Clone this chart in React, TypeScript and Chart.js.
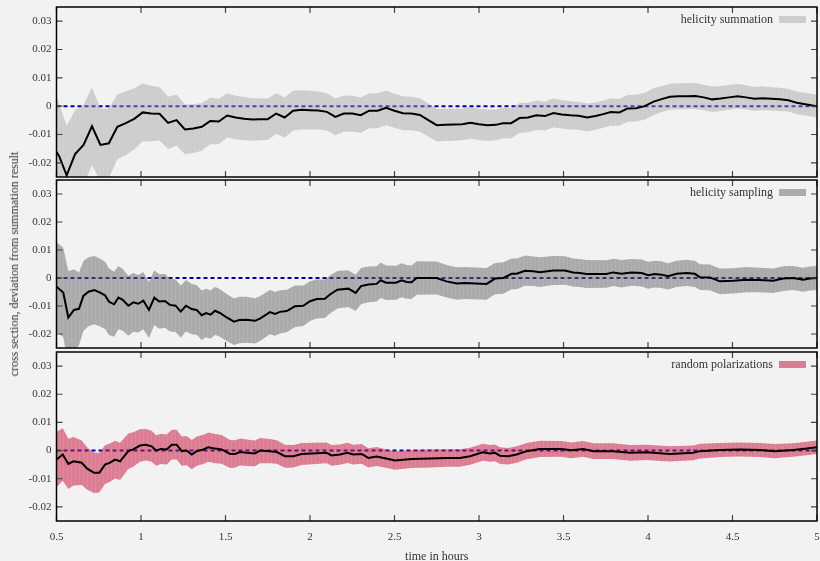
import React, { useEffect, useRef } from 'react';
import { Chart, registerables } from 'chart.js';

Chart.register(...registerables);

// ---------- data ----------
const xTicks = [0.5, 1, 1.5, 2, 2.5, 3, 3.5, 4, 4.5, 5];
const yTicks = [-0.02, -0.01, 0, 0.01, 0.02, 0.03];
const legendLabels = ['helicity summation', 'helicity sampling', 'random polarizations'];
const xTitle = 'time in hours';
const yTitle = 'cross section, deviation from summation result';

// panel 1: helicity summation
const hours1 = [
  0.5, 0.517, 0.56, 0.61, 0.66, 0.71, 0.76, 0.81, 0.86, 0.91,
  0.96, 1.01, 1.06, 1.11, 1.16, 1.21, 1.26, 1.31, 1.36, 1.41,
  1.46, 1.51, 1.56, 1.61, 1.66, 1.7, 1.75, 1.8, 1.85, 1.9,
  1.95, 2.0, 2.05, 2.1, 2.15, 2.2, 2.25, 2.3, 2.35, 2.4,
  2.45, 2.5, 2.55, 2.6, 2.65, 2.7, 2.75, 2.8, 2.85, 2.9,
  2.95, 3.0, 3.05, 3.1, 3.14, 3.19, 3.24, 3.29, 3.34, 3.39,
  3.44, 3.49, 3.54, 3.59, 3.64, 3.69, 3.73, 3.78, 3.83, 3.88,
  3.93, 3.98, 4.03, 4.08, 4.13, 4.18, 4.23, 4.28, 4.33, 4.38,
  4.43, 4.48, 4.53, 4.58, 4.63, 4.68, 4.73, 4.78, 4.83, 4.88,
  4.93, 5.0,
];
const summation = [
  -0.0161, -0.0178, -0.0244, -0.0169, -0.0137, -0.0071, -0.0137, -0.0131, -0.0073, -0.006,
  -0.0045, -0.0022, -0.0026, -0.0027, -0.0059, -0.0049, -0.0082, -0.0079, -0.0073, -0.0052,
  -0.0054, -0.0033, -0.004, -0.0044, -0.0047, -0.0046, -0.0046, -0.0026, -0.004, -0.0016,
  -0.0013, -0.0014, -0.0015, -0.002, -0.0038, -0.0026, -0.0026, -0.0032, -0.0016, -0.0016,
  -0.0006, -0.0016, -0.0025, -0.0026, -0.0031, -0.0049, -0.0067, -0.0066, -0.0065, -0.0064,
  -0.0059, -0.0064, -0.0067, -0.0066, -0.006, -0.006, -0.0042, -0.004, -0.0032, -0.0035,
  -0.0024, -0.0029, -0.0032, -0.0034, -0.004, -0.0035, -0.0029, -0.0021, -0.0022, -0.0008,
  -0.0007, 0, 0.0015, 0.0025, 0.0033, 0.0035, 0.0035, 0.0036, 0.0031, 0.0024,
  0.0027, 0.0031, 0.0035, 0.0031, 0.0026, 0.0028, 0.0026, 0.0024, 0.0021, 0.0012,
  0.0007, 0,
];
const summationErr = [
  0.0195, 0.0185, 0.0175, 0.0155, 0.0142, 0.0137, 0.0129, 0.0123, 0.0114, 0.0112,
  0.0108, 0.0102, 0.0098, 0.0094, 0.0092, 0.009, 0.0088, 0.0086, 0.0084, 0.0082,
  0.008, 0.0078, 0.0077, 0.0076, 0.0075, 0.0074, 0.0073, 0.0072, 0.0071, 0.007,
  0.0069, 0.0068, 0.0067, 0.0066, 0.0065, 0.0064, 0.0063, 0.0063, 0.0062, 0.0062,
  0.0061, 0.006, 0.006, 0.0059, 0.0059, 0.0058, 0.0058, 0.0057, 0.0057, 0.0056,
  0.0056, 0.0055, 0.0055, 0.0054, 0.0054, 0.0053, 0.0053, 0.0052, 0.0052, 0.0051,
  0.0051, 0.005, 0.005, 0.0049, 0.0049, 0.0048, 0.0048, 0.0048, 0.0047, 0.0047,
  0.0047, 0.0047, 0.0047, 0.0046, 0.0046, 0.0046, 0.0046, 0.0046, 0.0045, 0.0045,
  0.0044, 0.0044, 0.0043, 0.0043, 0.0042, 0.0042, 0.0041, 0.0041, 0.004, 0.004,
  0.004, 0.004,
];

// panel 2: helicity sampling
const hours2 = [
  0.5, 0.54, 0.57, 0.603, 0.633, 0.659, 0.689, 0.724, 0.758, 0.787,
  0.811, 0.841, 0.866, 0.892, 0.925, 0.955, 0.984, 1.014, 1.047, 1.079,
  1.108, 1.142, 1.171, 1.205, 1.235, 1.266, 1.3, 1.329, 1.359, 1.385,
  1.412, 1.438, 1.467, 1.507, 1.55, 1.582, 1.625, 1.674, 1.704, 1.763,
  1.793, 1.822, 1.862, 1.911, 1.96, 2.0, 2.04, 2.088, 2.118, 2.162,
  2.227, 2.27, 2.302, 2.345, 2.394, 2.418, 2.45, 2.509, 2.542, 2.572,
  2.601, 2.631, 2.749, 2.808, 2.868, 2.917, 3.045, 3.095, 3.144, 3.193,
  3.223, 3.272, 3.321, 3.36, 3.44, 3.508, 3.557, 3.597, 3.636, 3.754,
  3.794, 3.843, 3.902, 3.962, 4.001, 4.04, 4.08, 4.119, 4.169, 4.228,
  4.277, 4.307, 4.366, 4.425, 4.504, 4.583, 4.662, 4.741, 4.8, 4.859,
  4.918, 4.958, 5.0,
];
const sampling = [
  -0.0031, -0.0052, -0.0141, -0.0114, -0.011, -0.0064, -0.0049, -0.0043, -0.0052, -0.0062,
  -0.0085, -0.0094, -0.007, -0.0078, -0.0099, -0.0087, -0.0092, -0.0081, -0.0114, -0.007,
  -0.0084, -0.0082, -0.0096, -0.0099, -0.012, -0.0099, -0.0111, -0.0114, -0.0133, -0.0125,
  -0.0131, -0.0117, -0.0125, -0.0141, -0.0156, -0.015, -0.0149, -0.0153, -0.0145, -0.0122,
  -0.0128, -0.0121, -0.0118, -0.0101, -0.0099, -0.0083, -0.0075, -0.0074, -0.0059, -0.0042,
  -0.0038, -0.0053, -0.0029, -0.0023, -0.0021, -0.0008, -0.0017, -0.0017, -0.0008, -0.0014,
  -0.0015, 0, 0, -0.0012, -0.002, -0.0018, -0.0021, -0.0002, 0, 0.0015,
  0.0015, 0.0026, 0.0024, 0.0021, 0.0027, 0.0027, 0.002, 0.0018, 0.0014, 0.0014,
  0.002, 0.0015, 0.002, 0.0018, 0.001, 0.0014, 0.0012, 0.0006, 0.0015, 0.0018,
  0.0015, 0.0003, 0.0002, -0.0012, -0.001, -0.0006, -0.0007, -0.001, -0.0002, 0,
  -0.0006, -0.0002, 0,
];
const samplingErr = [
  0.016, 0.016, 0.0165, 0.0145, 0.013, 0.0125, 0.0123, 0.0122, 0.0121, 0.012,
  0.0119, 0.0116, 0.0113, 0.011, 0.0107, 0.0105, 0.0103, 0.0102, 0.01, 0.0098,
  0.0097, 0.0096, 0.0095, 0.0094, 0.0093, 0.0092, 0.009, 0.0089, 0.0088, 0.0087,
  0.0086, 0.0086, 0.0085, 0.0084, 0.0083, 0.0083, 0.0082, 0.0081, 0.008, 0.0079,
  0.0078, 0.0077, 0.0076, 0.0074, 0.0072, 0.0071, 0.007, 0.0069, 0.0068, 0.0067,
  0.0066, 0.0065, 0.0065, 0.0064, 0.0063, 0.0063, 0.0062, 0.0061, 0.0061, 0.006,
  0.006, 0.006, 0.0059, 0.0058, 0.0058, 0.0057, 0.0057, 0.0056, 0.0056, 0.0055,
  0.0055, 0.0054, 0.0053, 0.0053, 0.0052, 0.0051, 0.005, 0.005, 0.005, 0.0049,
  0.0049, 0.0049, 0.0048, 0.0048, 0.0048, 0.0048, 0.0048, 0.0047, 0.0047, 0.0047,
  0.0047, 0.0046, 0.0046, 0.0046, 0.0045, 0.0045, 0.0044, 0.0044, 0.0044, 0.0043,
  0.0043, 0.0043, 0.0043,
];

// panel 3: random polarizations
const hours3 = [
  0.5, 0.537, 0.57, 0.6, 0.649, 0.682, 0.722, 0.753, 0.787, 0.817,
  0.846, 0.876, 0.925, 0.954, 0.994, 1.028, 1.063, 1.089, 1.118, 1.152,
  1.182, 1.211, 1.241, 1.27, 1.3, 1.33, 1.369, 1.398, 1.438, 1.477,
  1.527, 1.556, 1.586, 1.625, 1.674, 1.704, 1.763, 1.803, 1.852, 1.901,
  1.95, 2.098, 2.128, 2.177, 2.221, 2.256, 2.306, 2.345, 2.394, 2.45,
  2.503, 2.601, 2.71, 2.808, 2.887, 2.947, 3.022, 3.065, 3.095, 3.124,
  3.173, 3.223, 3.282, 3.36, 3.488, 3.547, 3.616, 3.676, 3.794, 3.893,
  3.991, 4.129, 4.267, 4.307, 4.425, 4.543, 4.662, 4.75, 4.859, 4.938,
  5.0,
];
const randomPol = [
  -0.0032, -0.0014, -0.0047, -0.0038, -0.0043, -0.0064, -0.0079, -0.0079, -0.005, -0.0043,
  -0.0032, -0.0038, -0.0002, 0.0004, 0.0018, 0.0021, 0.0015, 0, 0.0006, 0.0004,
  0.0021, 0.0021, -0.0002, 0, -0.0014, -0.0002, 0.0004, 0.0012, 0.0007, 0.0004,
  -0.0012, -0.0012, -0.0005, -0.0008, -0.001, 0, -0.0002, -0.0005, -0.002, -0.002,
  -0.0012, -0.0008, -0.0017, -0.0014, -0.0008, -0.0014, -0.0012, -0.0026, -0.0021, -0.0028,
  -0.0035, -0.003, -0.0028, -0.0026, -0.0026, -0.002, -0.0006, -0.001, -0.0008, -0.0018,
  -0.002, -0.0014, -0.0002, 0.0006, 0.0006, 0.0001, 0.0006, -0.0002, -0.0002, -0.0008,
  -0.0006, -0.0012, -0.0008, -0.0002, 0.0002, 0.0004, 0.0002, -0.0002, 0.0002, 0.0007,
  0.0012,
];
const randomPolErr = [
  0.0098, 0.0093, 0.0089, 0.0086, 0.0079, 0.0075, 0.0072, 0.007, 0.0069, 0.0068,
  0.0067, 0.0066, 0.0063, 0.0061, 0.0058, 0.0056, 0.0055, 0.0054, 0.0054, 0.0053,
  0.0053, 0.0053, 0.0052, 0.0052, 0.0052, 0.0052, 0.0052, 0.0052, 0.0052, 0.0051,
  0.005, 0.0049, 0.0048, 0.0047, 0.0046, 0.0045, 0.0043, 0.0042, 0.0041, 0.004,
  0.0039, 0.0037, 0.0037, 0.0036, 0.0036, 0.0035, 0.0035, 0.0034, 0.0034, 0.0033,
  0.0033, 0.0032, 0.0032, 0.0031, 0.0031, 0.003, 0.003, 0.003, 0.003, 0.003,
  0.0029, 0.0029, 0.0029, 0.0029, 0.0028, 0.0028, 0.0028, 0.0028, 0.0028, 0.0028,
  0.0027, 0.0027, 0.0026, 0.0026, 0.0025, 0.0025, 0.0025, 0.0025, 0.0024, 0.0024,
  0.0024,
];

// ---------- styling ----------
const FONT = '"Liberation Serif", "Times New Roman", serif';
const BG = '#f2f2f2';
const TEXT = '#333333';

type PanelSpec = {
  hours: number[];
  vals: number[];
  errs: number[];
  label: string;
  fill: string;
  stripe: string;
  top: number;
  height: number;
  padTop: number;
  padBottom: number;
  showX: boolean;
};

const panels: PanelSpec[] = [
  { hours: hours1, vals: summation, errs: summationErr, label: legendLabels[0], fill: 'rgba(160,160,160,0.45)', stripe: 'rgba(160,160,160,0.40)', top: 0, height: 180, padTop: 7, padBottom: 3, showX: false },
  { hours: hours2, vals: sampling, errs: samplingErr, label: legendLabels[1], fill: 'rgba(100,100,100,0.5)', stripe: 'rgba(100,100,100,0.46)', top: 176, height: 175, padTop: 4, padBottom: 3, showX: false },
  { hours: hours3, vals: randomPol, errs: randomPolErr, label: legendLabels[2], fill: 'rgba(200,30,70,0.55)', stripe: 'rgba(200,30,70,0.50)', top: 348, height: 215, padTop: 4, padBottom: 0, showX: true },
];

function stripePattern(fill: string, stripe: string): CanvasPattern | string {
  const c = document.createElement('canvas');
  c.width = 4;
  c.height = 1;
  const g = c.getContext('2d');
  if (!g) return fill;
  g.fillStyle = fill;
  g.fillRect(0, 0, 3, 1);
  g.fillStyle = stripe;
  g.fillRect(3, 0, 1, 1);
  return g.createPattern(c, 'repeat') || fill;
}

function makeChart(canvas: HTMLCanvasElement, p: PanelSpec) {
  const pts = (f: (i: number) => number) => p.hours.map((h, i) => ({ x: h, y: f(i) }));

  const frame = {
    id: 'frame',
    afterDraw(chart: any) {
      const { ctx, chartArea: a, scales } = chart;
      ctx.save();
      ctx.strokeStyle = '#444';
      ctx.lineWidth = 1.2;
      ctx.beginPath();
      yTicks.forEach((v) => {
        const y = scales.y.getPixelForValue(v);
        ctx.moveTo(a.left, y);
        ctx.lineTo(a.left + 6, y);
        ctx.moveTo(a.right, y);
        ctx.lineTo(a.right - 6, y);
      });
      xTicks.forEach((v) => {
        const x = scales.x.getPixelForValue(v);
        ctx.moveTo(x, a.top);
        ctx.lineTo(x, a.top + 6);
        ctx.moveTo(x, a.bottom);
        ctx.lineTo(x, a.bottom - 6);
      });
      ctx.stroke();
      ctx.strokeStyle = '#000';
      ctx.lineWidth = 1.5;
      ctx.strokeRect(a.left, a.top, a.right - a.left, a.bottom - a.top);
      // legend
      ctx.fillStyle = p.fill;
      ctx.fillRect(a.right - 38, a.top + 9, 27, 7);
      ctx.font = `12px ${FONT}`;
      ctx.fillStyle = TEXT;
      ctx.textAlign = 'right';
      ctx.textBaseline = 'middle';
      ctx.fillText(p.label, a.right - 44, a.top + 13);
      ctx.restore();
    },
  };

  return new Chart(canvas, {
    type: 'line',
    data: {
      datasets: [
        {
          label: 'mean',
          data: pts((i) => p.vals[i]),
          borderColor: '#000',
          borderWidth: 2,
          pointRadius: 0,
          fill: false,
          tension: 0,
          order: 0,
        },
        {
          label: 'upper',
          data: pts((i) => p.vals[i] + p.errs[i]),
          borderColor: 'transparent',
          borderWidth: 0,
          pointRadius: 0,
          backgroundColor: stripePattern(p.fill, p.stripe),
          fill: '+1',
          tension: 0,
          order: 1,
        },
        {
          label: 'lower',
          data: pts((i) => p.vals[i] - p.errs[i]),
          borderColor: 'transparent',
          borderWidth: 0,
          pointRadius: 0,
          fill: false,
          tension: 0,
          order: 1,
        },
        {
          label: 'zero',
          data: [
            { x: xTicks[0], y: 0 },
            { x: xTicks[xTicks.length - 1], y: 0 },
          ],
          borderColor: '#0000aa',
          borderWidth: 2,
          borderDash: [4, 3],
          pointRadius: 0,
          fill: false,
          order: 2,
        },
      ],
    },
    options: {
      responsive: false,
      animation: false,
      events: [],
      layout: { padding: { left: 0, right: 3, top: p.padTop, bottom: p.padBottom } },
      plugins: {
        legend: { display: false },
        tooltip: { enabled: false },
        title: { display: false },
      },
      scales: {
        x: {
          type: 'linear',
          min: 0.5,
          max: 5,
          display: p.showX,
          afterBuildTicks: (s: any) => {
            s.ticks = xTicks.map((v) => ({ value: v }));
          },
          afterFit: (s: any) => {
            s.height = p.showX ? 42 : 0;
            s.paddingLeft = 0;
            s.paddingRight = 0;
          },
          grid: { display: false, drawTicks: false },
          border: { display: false },
          ticks: {
            padding: 10,
            color: TEXT,
            font: { family: FONT, size: 11 },
            maxRotation: 0,
            autoSkip: false,
            callback: (v: any) => String(v),
          },
          title: {
            display: true,
            text: xTitle,
            color: TEXT,
            font: { family: FONT, size: 12, lineHeight: 1 },
            padding: { top: 0, bottom: 0 },
          },
        },
        y: {
          type: 'linear',
          min: -0.025,
          max: 0.035,
          afterBuildTicks: (s: any) => {
            s.ticks = yTicks.map((v) => ({ value: v }));
          },
          afterFit: (s: any) => {
            s.width = 56.5;
            s.paddingTop = 0;
            s.paddingBottom = 0;
          },
          grid: { display: false, drawTicks: false },
          border: { display: false },
          ticks: {
            padding: 5,
            color: TEXT,
            font: { family: FONT, size: 11 },
            callback: (v: any) => String(Math.round(Number(v) * 100) / 100),
          },
        },
      },
    },
    plugins: [frame],
  } as any);
}

export default function App() {
  const refs = [useRef<HTMLCanvasElement>(null), useRef<HTMLCanvasElement>(null), useRef<HTMLCanvasElement>(null)];

  useEffect(() => {
    const charts = panels.map((p, i) => makeChart(refs[i].current as HTMLCanvasElement, p));
    return () => charts.forEach((c) => c.destroy());
  }, []);

  return (
    <div
      style={{
        position: 'fixed',
        left: 0,
        top: 0,
        width: 820,
        height: 561,
        overflow: 'hidden',
        background: BG,
      }}
    >
      {panels.map((p, i) => (
        <canvas
          key={i}
          ref={refs[i]}
          width={820}
          height={p.height}
          style={{ position: 'absolute', left: 0, top: p.top, width: 820, height: p.height }}
        />
      ))}
      <div
        style={{
          position: 'absolute',
          left: 13.5,
          top: 264,
          transform: 'translate(-50%, -50%) rotate(-90deg)',
          whiteSpace: 'nowrap',
          fontFamily: FONT,
          fontSize: 12,
          color: TEXT,
          lineHeight: 1,
        }}
      >
        {yTitle}
      </div>
    </div>
  );
}
